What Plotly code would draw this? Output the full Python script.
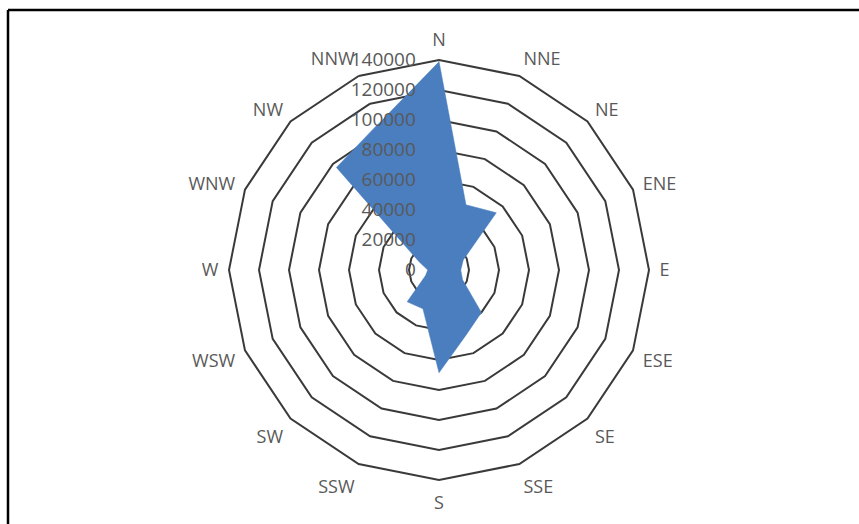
import plotly.graph_objects as go

directions = ["N", "NNE", "NE", "ENE", "E", "ESE", "SE", "SSE",
              "S", "SSW", "SW", "WSW", "W", "WNW", "NW", "NNW"]
counts = [139000, 47000, 54000, 17500, 14500, 17000, 40000, 47000,
          68500, 28000, 30000, 9700, 7500, 14400, 96700, 105600]
radial_ticks = [0, 20000, 40000, 60000, 80000, 100000, 120000, 140000]

W, H = 859, 524
cx, cy, R = 439, 270, 210

fig = go.Figure()
fig.add_trace(go.Scatterpolar(
    r=counts, theta=directions, mode="lines", fill="toself",
    fillcolor="#4A7EBF", line=dict(color="#4A7EBF", width=0.5),
    hoverinfo="r+theta", showlegend=False,
))

afont = dict(family="Open Sans, Liberation Sans, sans-serif", size=18, color="#595959")
rfont = dict(family="Open Sans, Liberation Sans, sans-serif", size=19, color="#595959")

fig.update_layout(
    width=W, height=H, margin=dict(l=0, r=0, t=0, b=0),
    paper_bgcolor="white", plot_bgcolor="white",
    font=afont,
    polar=dict(
        domain=dict(x=[(cx - R) / W, (cx + R) / W],
                    y=[(H - cy - R) / H, (H - cy + R) / H]),
        bgcolor="white",
        gridshape="linear",
        angularaxis=dict(
            direction="clockwise", rotation=90,
            categoryorder="array", categoryarray=directions,
            showgrid=False, showline=True, linecolor="#3a3a3a", linewidth=2,
            ticks="outside", ticklen=6, tickcolor="rgba(0,0,0,0)", tickfont=afont,
        ),
        radialaxis=dict(
            range=[0, 140000], tickvals=radial_ticks,
            ticktext=[str(v) for v in radial_ticks],
            angle=90, side="counterclockwise", tickangle=90,
            showline=False, ticks="outside", ticklen=16, tickcolor="rgba(0,0,0,0)",
            showgrid=True, gridcolor="#3a3a3a", gridwidth=2, tickfont=rfont,
        ),
    ),
    shapes=[
        dict(type="line", xref="paper", yref="paper", x0=8 / W, x1=8 / W,
             y0=0, y1=(H - 10) / H, line=dict(color="black", width=2.5)),
        dict(type="line", xref="paper", yref="paper", x0=8 / W, x1=1,
             y0=(H - 10) / H, y1=(H - 10) / H, line=dict(color="black", width=2.5)),
    ],
)

fig.write_html("out.html")
